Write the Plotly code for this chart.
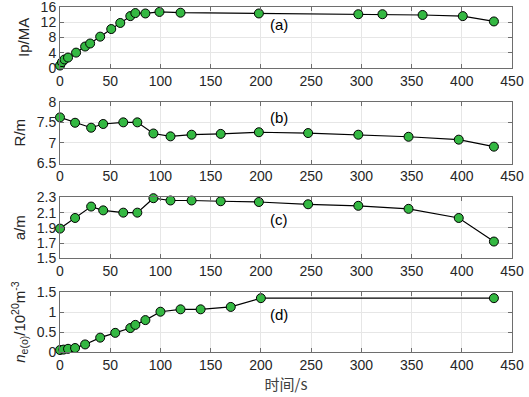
import plotly.graph_objects as go
from plotly.subplots import make_subplots

# (a) plasma current
t_ip = [0, 2, 4.5, 8, 16, 25, 30, 40, 51, 60, 70, 75, 85, 99, 120, 198, 297, 321, 361, 401, 432]
ip = [0.6, 1.5, 2.2, 2.7, 4.0, 5.6, 6.4, 8.2, 10.2, 11.8, 13.6, 14.4, 14.3, 14.7, 14.5, 14.3, 14.1, 14.1, 13.9, 13.6, 12.2]

# (b) major radius
t_r = [0, 15, 31, 43, 63, 77, 93, 110, 131, 160, 198, 247, 297, 347, 397, 432]
r_m = [7.62, 7.49, 7.37, 7.46, 7.5, 7.5, 7.23, 7.16, 7.2, 7.22, 7.26, 7.24, 7.2, 7.15, 7.08, 6.91]

# (c) minor radius
t_a = [0, 15, 31, 43, 63, 77, 93, 110, 131, 160, 198, 247, 297, 347, 397, 432]
a_m = [1.89, 2.03, 2.18, 2.13, 2.1, 2.1, 2.29, 2.26, 2.26, 2.25, 2.24, 2.21, 2.19, 2.15, 2.03, 1.72]

# (d) central density
t_n = [0, 3.5, 8, 15, 25, 40, 55, 70, 75, 85, 100, 120, 140, 170, 200, 432]
n_e = [0.05, 0.06, 0.08, 0.1, 0.19, 0.36, 0.48, 0.6, 0.68, 0.8, 1.01, 1.07, 1.07, 1.13, 1.35, 1.35]

x_ticks = [0, 50, 100, 150, 200, 250, 300, 350, 400, 450]
y_ticks = [[0, 4, 8, 12, 16], [6.5, 7, 7.5, 8], [1.5, 1.7, 1.9, 2.1, 2.3], [0, 0.5, 1, 1.5]]
y_ticktext = [["0", "4", "8", "12", "16"], ["6.5", "7", "7.5", "8"],
              ["1.5", "1.7", "1.9", "2.1", "2.3"], ["0", "0.5", "1", "1.5"]]
y_ranges = [[0, 16], [6.5, 8], [1.5, 2.3], [0, 1.5]]
y_titles = ["Ip/MA", "R/m", "a/m", "<i>n</i><sub>e(o)</sub>/10<sup>20</sup>m<sup>-3</sup>"]
panel_labels = ["(a)", "(b)", "(c)", "(d)"]
label_y = [11.3, 7.62, 2.01, 0.93]

series = [(t_ip, ip), (t_r, r_m), (t_a, a_m), (t_n, n_e)]

fig = make_subplots(rows=4, cols=1)

domains = [[0.8237, 1.0], [0.5462, 0.7254], [0.2717, 0.448], [0.0, 0.1734]]

FONT = "Liberation Sans, Arial, sans-serif"
for i, (xs, ys) in enumerate(series):
    fig.add_trace(go.Scatter(
        x=xs, y=ys, mode="lines+markers",
        line=dict(color="black", width=1.2),
        marker=dict(size=9, color="#34b842", line=dict(color="black", width=1)),
        showlegend=False, cliponaxis=False), row=i + 1, col=1)
    xa = "xaxis" if i == 0 else f"xaxis{i+1}"
    ya = "yaxis" if i == 0 else f"yaxis{i+1}"
    fig.layout[xa].update(
        range=[0, 450], tickvals=x_ticks, showgrid=True, gridcolor="#e6e6e6",
        showline=True, linecolor="#6e6e6e", linewidth=1, mirror="ticks",
        ticks="inside", ticklen=4, tickcolor="#6e6e6e", zeroline=False,
        automargin=False, domain=[0, 1], ticklabeloverflow="allow",
        tickfont=dict(size=14, color="#262626", family=FONT))
    fig.layout[ya].update(
        range=y_ranges[i], tickvals=y_ticks[i], ticktext=y_ticktext[i], domain=domains[i],
        showgrid=True, gridcolor="#e6e6e6",
        showline=True, linecolor="#6e6e6e", linewidth=1, mirror="ticks",
        ticks="inside", ticklen=4, tickcolor="#6e6e6e", zeroline=False,
        automargin=False, ticklabeloverflow="allow",
        tickfont=dict(size=14, color="#262626", family=FONT),
        title=dict(text=y_titles[i], font=dict(size=15, color="#262626", family=FONT), standoff=7))
    fig.add_annotation(x=218, y=label_y[i], text=panel_labels[i], showarrow=False,
                       xref=f"x{i+1}" if i else "x", yref=f"y{i+1}" if i else "y",
                       font=dict(size=15, color="black", family=FONT))

fig.layout["xaxis4"].update(title=dict(text="时间/s", standoff=2,
                                       font=dict(size=15, color="#404040", family="Noto Sans CJK SC")))

fig.update_layout(
    width=529, height=397, plot_bgcolor="white", paper_bgcolor="white",
    margin=dict(l=60, r=17, t=7, b=45),
)
fig.write_html("out.html", config={"displayModeBar": False},
               post_script="document.body.style.margin='0';document.body.style.overflow='hidden';")
